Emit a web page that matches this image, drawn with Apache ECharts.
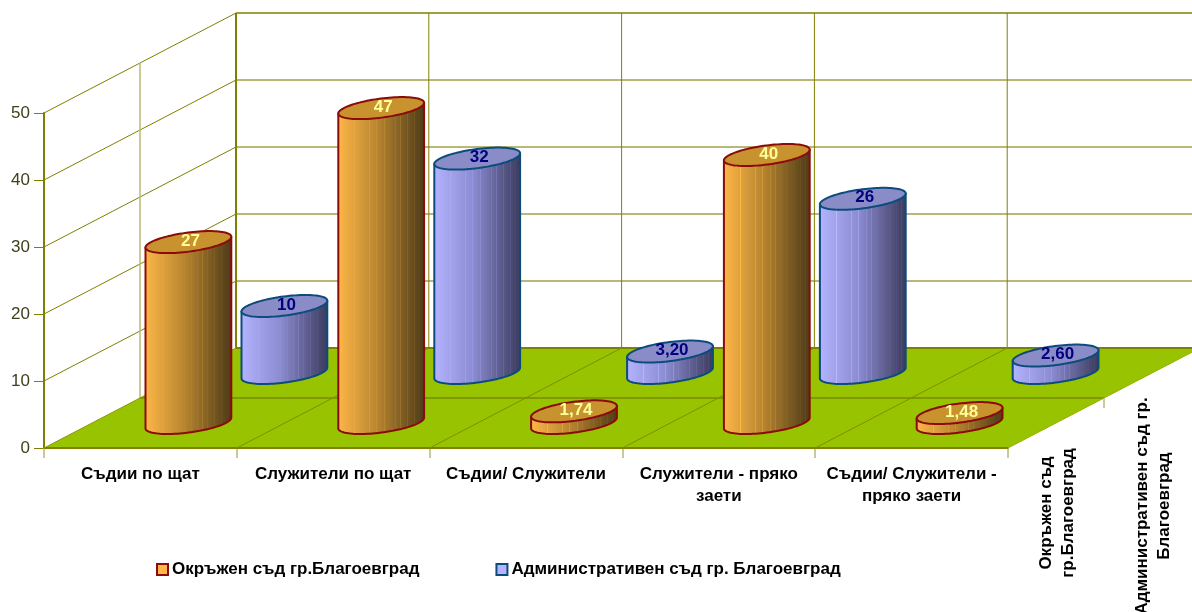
<!DOCTYPE html>
<html><head><meta charset="utf-8">
<style>html,body{margin:0;padding:0;background:#fff}#c{width:1192px;height:612px}</style>
<script src="https://cdn.jsdelivr.net/npm/echarts@6/dist/echarts.min.js"></script>
</head><body><div id="c"></div>
<script>
const categories = ['Съдии по щат','Служители по щат','Съдии/ Служители','Служители - пряко\nзаети','Съдии/ Служители -\nпряко заети'];
const depthLabels = ['Окръжен съд\nгр.Благоевград','Административен съд гр.\nБлагоевград'];
const seriesNames = ['Окръжен съд гр.Благоевград','Административен съд гр. Благоевград'];
const okrazhen = [27,47,1.74,40,1.48];
const administrativen = [10,32,3.2,26,2.6];
const yTicks = [0,10,20,30,40,50];

const FONT = '"Liberation Sans", Arial, sans-serif';
const OLIVE = '#808000', PALE = '#b8b878';
const ROW_DX = 96, ROW_DY = -50;
const chart = echarts.init(document.getElementById('c'));

function fmt(v){ return Number.isInteger(v) ? String(v) : v.toFixed(2).replace('.',','); }
const stripes = [.2,.37,.45,.54,.6,.66,.72,.8,.88,.94];
function bodyFill(cols){
  const base = p => {
    const seg = p < .45 ? [0, .45, cols[0], cols[1]] : [.45, 1, cols[1], cols[2]];
    return echarts.color.lerp((p-seg[0])/(seg[1]-seg[0]), [seg[2], seg[3]]);
  };
  const stops = [{offset:0,color:cols[0]}];
  stripes.forEach(p=>{
    const c = base(p);
    stops.push({offset:p-.006,color:c});
    stops.push({offset:p,color:echarts.color.lift(c,-.16)});
    stops.push({offset:p+.006,color:base(p+.006)});
  });
  stops.push({offset:1,color:cols[2]});
  return new echarts.graphic.LinearGradient(0,0,1,0,stops);
}
const looks = [
  {body:['#ffb748','#b98630','#4c3a18'],top:'#c8922e',edge:'#8b0a0a',text:'#ffff99'},
  {body:['#b4b4ff','#8c8cd2','#3a3a5c'],top:'#8a8cc8',edge:'#0b4c7c',text:'#000080'}
];

function cylinder(row){
  const look = looks[row];
  const fill = bodyFill(look.body);
  return function(params, api){
    const band = api.size([1,0])[0];
    const value = api.value(1);
    const base0 = api.coord([api.value(0),0]);
    const top0 = api.coord([api.value(0),value]);
    const off = row + .5;
    const cx = base0[0] + ROW_DX*off, by = base0[1] + ROW_DY*off, ty = top0[1] + ROW_DY*off;
    const a = band*.194, bx = 21, bz = -11;
    const t0 = Math.atan2(bx,a);
    const pt = (t,cy)=>[cx + a*Math.cos(t) + bx*Math.sin(t), cy + bz*Math.sin(t)];
    const N = 48, lower = [], ring = [];
    for(let i=0;i<=N;i++) lower.push(pt(t0 - Math.PI*i/N, by));
    for(let i=0;i<N*2;i++) ring.push(pt(Math.PI*i/N, ty));
    const leftTop = pt(t0-Math.PI, ty), rightTop = pt(t0, ty);
    return {type:'group',children:[
      {type:'polygon',shape:{points:[rightTop].concat(lower,[leftTop])},
       style:{fill:fill,stroke:look.edge,lineWidth:2,lineJoin:'round'}},
      {type:'polygon',shape:{points:ring},
       style:{fill:look.top,stroke:look.edge,lineWidth:2,lineJoin:'round'}},
      {type:'text',x:cx+2,y:ty-1,style:{text:fmt(value),fill:look.text,
        font:'bold 17px '+FONT,align:'center',verticalAlign:'middle'}}
    ]};
  };
}

function frame(params, api){
  const band = api.size([1,0])[0];
  const o = api.coord([0,0]);
  const x0 = o[0] - band/2, y0 = o[1];
  const n = categories.length, w = band*n;
  const dx = ROW_DX*2, dy = ROW_DY*2;
  const els = [];
  const line = (x1,y1,x2,y2,stroke,lw)=>els.push({type:'line',shape:{x1,y1,x2,y2},style:{stroke,lineWidth:lw}});
  yTicks.forEach(t=>{
    const y = api.coord([0,t])[1];
    if(t>0) line(x0,y,x0+dx,y+dy,OLIVE,1);
    if(t>0) line(x0+dx,y+dy,x0+dx+w,y+dy,t===50?OLIVE:PALE,t===50?1.5:2);
  });
  const yTop = api.coord([0,50])[1];
  line(x0+ROW_DX,y0+ROW_DY,x0+ROW_DX,yTop+ROW_DY,PALE,1.5);
  for(let i=0;i<n;i++){
    const x = x0+dx+band*i;
    line(x,y0+dy,x,yTop+dy,OLIVE,i===0?2:1);
  }
  els.push({type:'polygon',shape:{points:[[x0,y0],[x0+w,y0],[x0+w+dx,y0+dy],[x0+dx,y0+dy]]},
    style:{fill:'#97c300'}});
  line(x0+ROW_DX,y0+ROW_DY,x0+ROW_DX+w,y0+ROW_DY,'#7f9a00',2);
  line(x0+dx,y0+dy,x0+dx+w,y0+dy,OLIVE,2);
  line(x0,y0,x0+w,y0,OLIVE,2);
  for(let i=0;i<n;i++){
    const x = x0+band*(i+1);
    if(i<n-1) line(x,y0,x+dx,y0+dy,'#7f8f00',1);
  }
  line(x0,y0,x0+dx,y0+dy,'#8a9a00',1);
  line(x0+w,y0,x0+w+dx,y0+dy,'#99b000',1);
  line(x0+w+ROW_DX,y0+ROW_DY,x0+w+ROW_DX,y0+ROW_DY+10,PALE,1.5);
  const lx = [49,145], ly = [65,58];
  depthLabels.forEach((s,i)=>els.push({type:'text',x:x0+w+lx[i],y:y0+ly[i],rotation:Math.PI/2,
    style:{text:s,fill:'#000',font:'bold 17px '+FONT,align:'center',verticalAlign:'middle',lineHeight:22}}));
  return {type:'group',children:els};
}

const mk = (values,row,name)=>({
  type:'custom',name:name,coordinateSystem:'cartesian2d',z:3+(1-row),
  renderItem:cylinder(row),
  itemStyle:{color:looks[row].body[0]},
  data:values.map((v,i)=>[i,v]),encode:{x:0,y:1}
});

chart.setOption({
  animation:false,backgroundColor:'#fff',
  grid:{left:44,top:113,width:964,height:335,containLabel:false},
  xAxis:{type:'category',data:categories,
    axisLine:{lineStyle:{color:OLIVE,width:2}},
    axisTick:{show:true,length:10,lineStyle:{color:PALE,width:1.5},alignWithLabel:false},
    axisLabel:{color:'#000',fontFamily:FONT,fontWeight:'bold',fontSize:17,margin:15,lineHeight:22,interval:0},
    splitLine:{show:false}},
  yAxis:{type:'value',min:0,max:50,interval:10,
    axisLine:{show:true,lineStyle:{color:OLIVE,width:2}},
    axisTick:{show:true,length:10,lineStyle:{color:OLIVE,width:1}},
    axisLabel:{color:'#40401c',fontFamily:FONT,fontSize:17,margin:14},
    splitLine:{show:false}},
  legend:{left:151,top:556,icon:'rect',itemWidth:11,itemHeight:11,itemGap:76,
    selectedMode:false,
    textStyle:{color:'#000',fontFamily:FONT,fontWeight:'bold',fontSize:17,padding:[0,0,0,-1]},
    data:[
      {name:seriesNames[0],itemStyle:{color:'#ffb748',borderColor:'#8b0a0a',borderWidth:2}},
      {name:seriesNames[1],itemStyle:{color:'#b4b4ff',borderColor:'#0b4c7c',borderWidth:2}}
    ]},
  series:[
    {type:'custom',coordinateSystem:'cartesian2d',z:2,renderItem:frame,data:[[0,0]],encode:{x:0,y:1},silent:true},
    mk(administrativen,1,seriesNames[1]),
    mk(okrazhen,0,seriesNames[0])
  ]
});
</script></body></html>
